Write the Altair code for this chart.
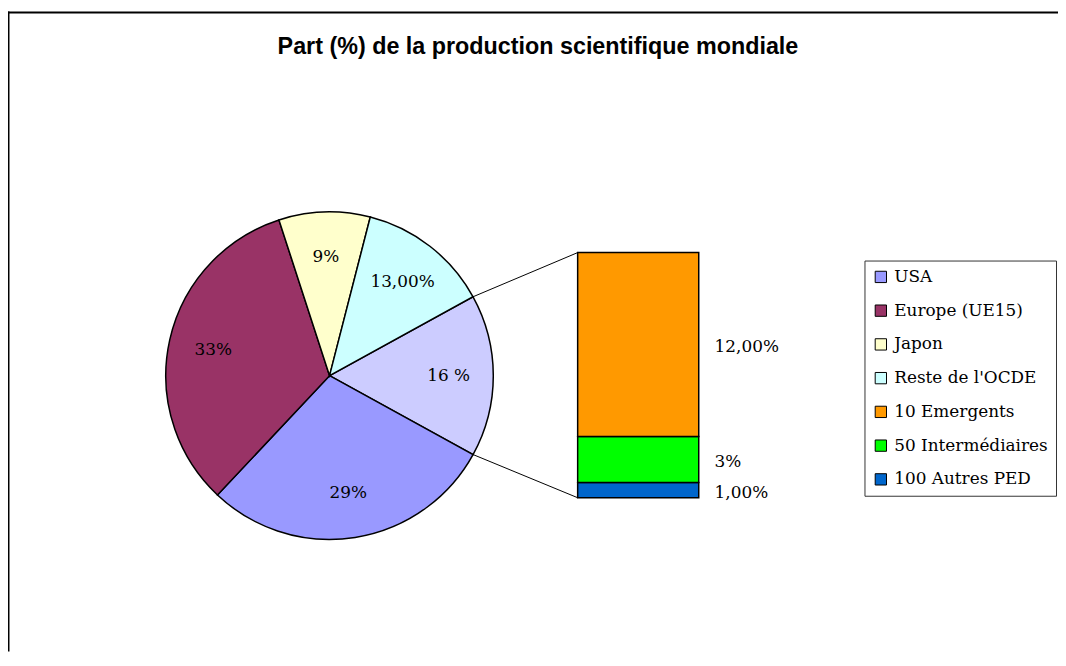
import math
import altair as alt
import pandas as pd

# ---------------- data ----------------
title_text = "Part (%) de la production scientifique mondiale"

pie_categories = ["Autres", "USA", "Europe (UE15)", "Japon", "Reste de l'OCDE"]
pie_values = [16, 29, 33, 9, 13]
pie_labels = ["16 %", "29%", "33%", "9%", "13,00%"]

bar_categories = ["100 Autres PED", "50 Intermédiaires", "10 Emergents"]
bar_values = [1, 3, 12]
bar_labels = ["1,00%", "3%", "12,00%"]

legend_order = ["USA", "Europe (UE15)", "Japon", "Reste de l'OCDE",
                "10 Emergents", "50 Intermédiaires", "100 Autres PED"]

color_domain = ["USA", "Europe (UE15)", "Japon", "Reste de l'OCDE",
                "10 Emergents", "50 Intermédiaires", "100 Autres PED", "Autres"]
color_range = ["#9999FF", "#993366", "#FFFFCC", "#CCFFFF",
               "#FF9900", "#00FF00", "#0066CC", "#CCCCFF"]

# ---------------- layout (chart pixel space) ----------------
W, H = 1058, 646
CX, CY, R = 324, 368, 165
BAR_X0, BAR_X1 = 574, 696
BAR_BOTTOM, BAR_TOP = 491, 244
SERIF = "DejaVu Serif"

pie_df = pd.DataFrame({"cat": pie_categories, "value": pie_values,
                       "label": pie_labels, "order": list(range(len(pie_values)))})
bar_df = pd.DataFrame({"cat": bar_categories, "value": bar_values,
                       "label": bar_labels, "order": list(range(len(bar_values)))})

total = sum(pie_values)
other = pie_values[0]
start = math.pi / 2 - math.pi * other / total
end_other = start + 2 * math.pi * other / total
theta_scale = alt.Scale(range=[start, start + 2 * math.pi])

color_enc = alt.Color(
    "cat:N",
    scale=alt.Scale(domain=color_domain, range=color_range),
    legend=alt.Legend(
        values=legend_order, orient="none", legendX=863, legendY=252,
        title=None, strokeColor="#333333", fillColor="white", padding=8,
        symbolType="square", symbolSize=130, symbolStrokeColor="black",
        symbolStrokeWidth=1, symbolOpacity=1,
        labelFont=SERIF, labelFontSize=17, labelColor="black",
        labelOffset=5, rowPadding=16, labelLimit=300,
    ),
)

pie = alt.Chart(pie_df).mark_arc(outerRadius=R, stroke="black", strokeWidth=1.5).encode(
    theta=alt.Theta("value:Q", stack=True, scale=theta_scale),
    order=alt.Order("order:Q"),
    color=color_enc,
    x=alt.value(CX), y=alt.value(CY),
)

pie_text = alt.Chart(pie_df).mark_text(radius=120, font=SERIF, fontSize=17,
                                       color="black", align="center", baseline="middle").encode(
    theta=alt.Theta("value:Q", stack=True, scale=theta_scale),
    order=alt.Order("order:Q"),
    text="label:N",
    x=alt.value(CX), y=alt.value(CY),
)

bar_total = sum(bar_values)
y_scale = alt.Scale(domain=[0, bar_total], range=[BAR_BOTTOM, BAR_TOP])

bar_base = alt.Chart(bar_df).transform_stack(
    stack="value", groupby=[], as_=["v0", "v1"],
    sort=[alt.SortField("order", order="ascending")],
).transform_calculate(mid="(datum.v0 + datum.v1) / 2")

bar = bar_base.mark_bar(stroke="black", strokeWidth=1.5).encode(
    x=alt.value(BAR_X0), x2=alt.value(BAR_X1),
    y=alt.Y("v0:Q", scale=y_scale, axis=None), y2="v1:Q",
    color=color_enc,
)

bar_text = bar_base.mark_text(font=SERIF, fontSize=17, color="black",
                              align="left", baseline="middle", dy=3).encode(
    x=alt.value(712),
    y=alt.Y("mid:Q", scale=y_scale, axis=None),
    text="label:N",
)

# connector lines from the split slice edges to the bar corners
p1 = (CX + R * math.sin(start), CY - R * math.cos(start))
p2 = (CX + R * math.sin(end_other), CY - R * math.cos(end_other))
conn_df = pd.DataFrame({"x1": [p1[0], p2[0]], "y1": [p1[1], p2[1]],
                        "x2": [BAR_X0, BAR_X0], "y2": [BAR_TOP, BAR_BOTTOM]})
connectors = alt.Chart(conn_df).mark_rule(color="black", strokeWidth=1).encode(
    x=alt.X("x1:Q", scale=alt.Scale(domain=[0, W], range=[0, W]), axis=None),
    x2="x2:Q",
    y=alt.Y("y1:Q", scale=alt.Scale(domain=[0, H], range=[0, H]), axis=None),
    y2="y2:Q",
)

one = pd.DataFrame({"t": [title_text]})
title = alt.Chart(one).mark_text(font="Liberation Sans", fontWeight="bold", fontSize=23.5,
                                 color="black", align="center", baseline="alphabetic").encode(
    text="t:N", x=alt.value(534), y=alt.value(44),
)

frame_top = alt.Chart(one).mark_rule(color="black", strokeWidth=2).encode(
    x=alt.value(0), x2=alt.value(W), y=alt.value(2))
frame_left = alt.Chart(one).mark_rule(color="black", strokeWidth=2).encode(
    x=alt.value(0.5), y=alt.value(1), y2=alt.value(H))

chart = alt.layer(
    connectors, pie, pie_text, bar, bar_text, title, frame_top, frame_left
).resolve_scale(y="independent", x="independent").properties(
    width=W, height=H, padding=0,
    autosize=alt.AutoSizeParams(type="none"),
).configure_view(stroke=None)

chart.save("out.html", embed_options={"renderer": "svg", "actions": False})
